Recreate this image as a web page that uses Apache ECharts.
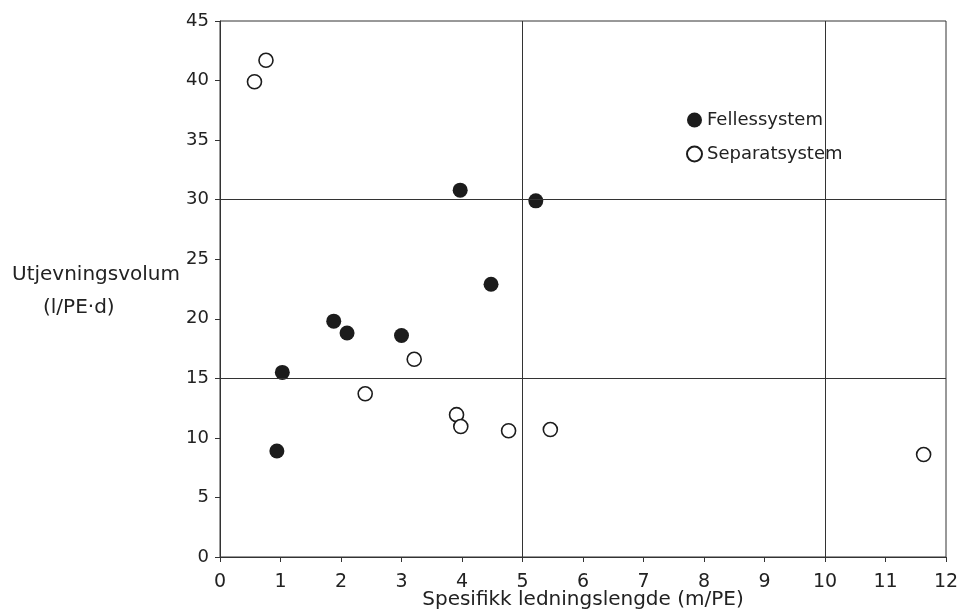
<!DOCTYPE html>
<html>
<head>
<meta charset="utf-8">
<script src="https://cdn.jsdelivr.net/npm/echarts@6/dist/echarts.min.js"></script>
<style>html,body{margin:0;padding:0;background:#fff}#c{width:960px;height:614px}</style>
</head>
<body>
<div id="c"></div>
<script>
// Data
var fellesX = [0.94, 1.03, 1.88, 2.10, 3.00, 3.97, 4.48, 5.22];
var fellesY = [8.9, 15.5, 19.8, 18.8, 18.6, 30.8, 22.9, 29.9];
var separatX = [0.57, 0.76, 2.40, 3.21, 3.91, 3.98, 4.77, 5.46, 11.63];
var separatY = [39.9, 41.7, 13.7, 16.6, 11.95, 10.95, 10.6, 10.7, 8.6];
var refX = [5, 10];
var refY = [15, 30];
var seriesNames = ['Fellessystem', 'Separatsystem'];
var xTitle = 'Spesifikk ledningslengde (m/PE)';
var yTitle1 = 'Utjevningsvolum';
var yTitle2 = '(l/PE\u00b7d)';

function pairs(xs, ys) { return xs.map(function (x, i) { return [x, ys[i]]; }); }

var FONT = 'DejaVu Sans';
var INK = '#222';
var LINE = '#333';

var chart = echarts.init(document.getElementById('c'), null, { renderer: 'canvas' });
chart.setOption({
  backgroundColor: '#fff',
  animation: false,
  textStyle: { fontFamily: FONT, color: INK },
  grid: {
    left: 220, top: 21, width: 726, height: 536, containLabel: false, outerBoundsMode: 'none',
    show: true, borderColor: LINE, borderWidth: 1, backgroundColor: 'transparent'
  },
  legend: {
    orient: 'vertical', left: 681, top: 106, itemWidth: 15, itemHeight: 15, itemGap: 16,
    textStyle: { fontFamily: FONT, fontSize: 18, color: INK },
    data: seriesNames
  },
  xAxis: {
    type: 'value', min: 0, max: 12, interval: 1,
    name: xTitle, nameLocation: 'middle', nameGap: 33, nameMoveOverlap: false,
    nameTextStyle: { fontFamily: FONT, fontSize: 20, color: INK },
    axisLine: { show: true, onZero: false, lineStyle: { color: LINE, width: 1 } },
    axisTick: { show: true, inside: false, length: 5, lineStyle: { color: LINE } },
    axisLabel: { margin: 16, fontFamily: FONT, fontSize: 19, color: INK },
    splitLine: { show: false }
  },
  yAxis: {
    type: 'value', min: 0, max: 45, interval: 5,
    axisLine: { show: true, onZero: false, lineStyle: { color: LINE, width: 1 } },
    axisTick: { show: true, inside: false, length: 5, lineStyle: { color: LINE } },
    axisLabel: { margin: 11, fontFamily: FONT, fontSize: 18, color: INK },
    splitLine: { show: false }
  },
  graphic: [
    { type: 'text', left: 12, top: 265, style: { text: yTitle1, font: '20px "DejaVu Sans"', fill: INK } },
    { type: 'text', left: 43, top: 298, style: { text: yTitle2, font: '20px "DejaVu Sans"', fill: INK } }
  ],
  series: [
    {
      name: seriesNames[0], type: 'scatter', symbol: 'circle', symbolSize: 15,
      itemStyle: { color: '#1c1c1c', borderColor: '#1c1c1c', borderWidth: 0, opacity: 1 },
      data: pairs(fellesX, fellesY),
      markLine: {
        silent: true, symbol: 'none', label: { show: false },
        lineStyle: { color: LINE, width: 1, type: 'solid' },
        data: refX.map(function (v) { return { xAxis: v }; }).concat(refY.map(function (v) { return { yAxis: v }; }))
      },
      z: 3
    },
    {
      name: seriesNames[1], type: 'scatter', symbol: 'circle', symbolSize: 14,
      itemStyle: { color: '#fff', borderColor: '#1c1c1c', borderWidth: 1.6, opacity: 1 },
      data: pairs(separatX, separatY),
      z: 3
    }
  ]
});
</script>
</body>
</html>
